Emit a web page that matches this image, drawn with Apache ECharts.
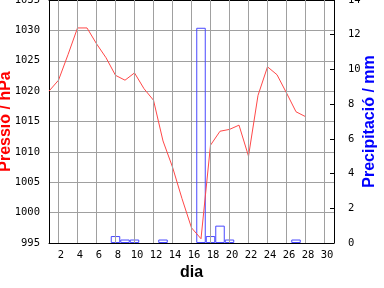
<!DOCTYPE html>
<html>
<head>
<meta charset="utf-8">
<script src="https://cdn.jsdelivr.net/npm/echarts@6/dist/echarts.min.js"></script>
<style>
html,body{margin:0;padding:0;background:#fff;}
#c{width:384px;height:288px;}
</style>
</head>
<body>
<div id="c"></div>
<script>
const days = [1,2,3,4,5,6,7,8,9,10,11,12,13,14,15,16,17,18,19,20,21,22,23,24,25,26,27,28];
const pressure = [1020.0,1021.8,1026.0,1030.4,1030.4,1027.8,1025.5,1022.6,1021.8,1023.0,1020.4,1018.5,1011.8,1007.5,1002.3,997.5,995.7,1011.1,1013.4,1013.7,1014.4,1009.3,1019.3,1024.0,1022.7,1019.7,1016.6,1015.8];
const rainDays = [8,9,10,13,17,18,19,20,27];
const rain = [0.4,0.2,0.2,0.2,12.4,0.4,1.0,0.2,0.2];
const xTicks = [2,4,6,8,10,12,14,16,18,20,22,24,26,28,30];

const monoFont = 'DejaVu Sans Mono';
const plain = v => String(v);
const chart = echarts.init(document.getElementById('c'), null, {renderer:'canvas'});
chart.setOption({
  animation: false,
  backgroundColor: '#ffffff',
  grid: {left: 49, right: 50, top: 0, bottom: 45, containLabel: false, outerBoundsMode: 'none'},
  xAxis: [{
    type: 'value', min: 1, max: 31, position: 'bottom',
    name: 'dia', nameLocation: 'middle', nameGap: 22, nameMoveOverlap: false,
    nameTextStyle: {fontFamily: 'Liberation Sans', fontSize: 16, fontWeight: 'bold', color: '#000'},
    axisLine: {show: true, lineStyle: {color: '#000', width: 1}},
    axisTick: {show: true, inside: true, length: 4, customValues: xTicks, lineStyle: {color: '#000'}},
    axisLabel: {show: true, customValues: xTicks, margin: 7, padding: [0,0,0,5], fontFamily: monoFont, fontSize: 10.5, color: '#000', formatter: plain},
    splitLine: {show: false}
  }, {
    type: 'value', min: 1, max: 31, position: 'top',
    axisLine: {show: true, lineStyle: {color: '#000', width: 1}},
    axisTick: {show: true, inside: true, length: 4, customValues: xTicks, lineStyle: {color: '#000'}},
    axisLabel: {show: false},
    splitLine: {show: false}
  }],
  yAxis: [{
    type: 'value', min: 995, max: 1035, interval: 5, position: 'left',
    name: 'Pressió / hPa', nameLocation: 'middle', nameGap: 35, nameRotate: 90, nameMoveOverlap: false,
    nameTextStyle: {fontFamily: 'Liberation Sans', fontSize: 16, fontWeight: 'bold', color: '#ff0000'},
    axisLine: {show: true, lineStyle: {color: '#000', width: 1}},
    axisTick: {show: false},
    axisLabel: {margin: 9, fontFamily: monoFont, fontSize: 10.5, color: '#000', formatter: plain},
    splitLine: {show: true, lineStyle: {color: '#a0a0a0', width: 1}}
  }, {
    type: 'value', min: 0, max: 14, interval: 2, position: 'right',
    name: 'Precipitació / mm', nameLocation: 'middle', nameGap: 28, nameRotate: 90, nameMoveOverlap: false,
    nameTextStyle: {fontFamily: 'Liberation Sans', fontSize: 16, fontWeight: 'bold', color: '#0000ff'},
    axisLine: {show: true, lineStyle: {color: '#000', width: 1}},
    axisTick: {show: true, inside: true, length: 4, lineStyle: {color: '#000'}},
    axisLabel: {margin: 14, fontFamily: monoFont, fontSize: 10.5, color: '#000', formatter: plain},
    splitLine: {show: false}
  }],
  series: [{
    type: 'line', xAxisIndex: 0, yAxisIndex: 0, data: [], z: 1, silent: true,
    markLine: {
      silent: true, symbol: 'none', animation: false,
      label: {show: false},
      lineStyle: {color: '#a0a0a0', width: 1, type: 'solid'},
      emphasis: {disabled: true},
      data: xTicks.map(v => ({xAxis: v}))
    }
  }, {
    type: 'bar', xAxisIndex: 0, yAxisIndex: 1,
    data: rainDays.map((d, i) => [d, rain[i]]),
    barWidth: 9.5,
    itemStyle: {color: 'rgba(0,0,0,0)', borderColor: '#4848ff', borderWidth: 1},
    z: 3
  }, {
    type: 'line', xAxisIndex: 0, yAxisIndex: 0,
    data: days.map((d, i) => [d, pressure[i]]),
    showSymbol: false, symbol: 'none',
    lineStyle: {color: '#ff4848', width: 1},
    z: 4
  }]
});
</script>
</body>
</html>
